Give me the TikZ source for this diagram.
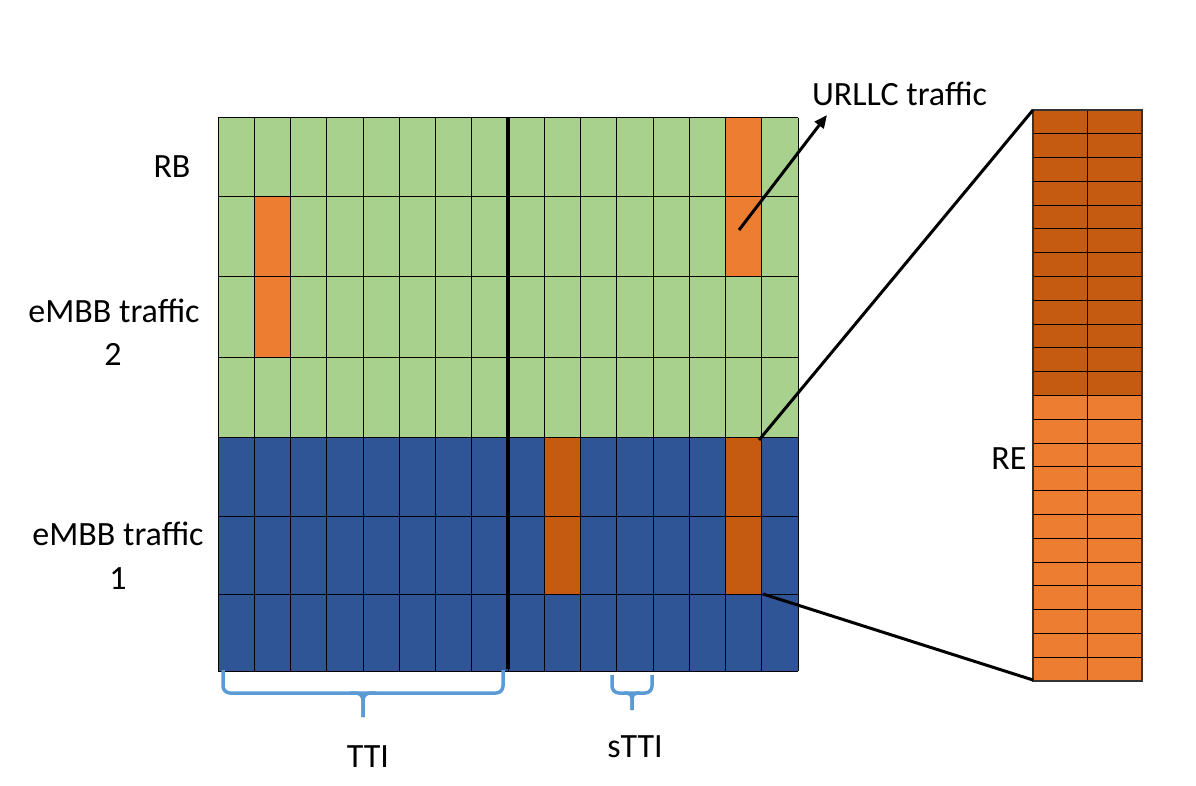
\documentclass[tikz,border=0pt]{standalone}
\usepackage{fontspec}
\setmainfont{Carlito}
\usetikzlibrary{arrows.meta}
\definecolor{cgreen}{HTML}{A9D18E}
\definecolor{cblue}{HTML}{2F5597}
\definecolor{corange}{HTML}{ED7D31}
\definecolor{cdark}{HTML}{C55A11}
\definecolor{cbrace}{HTML}{5B9BD5}
\tikzset{
  lbl/.style={anchor=base, inner sep=0pt, font=\fontsize{34}{40}\selectfont},
  gridline/.style={draw=black, line width=1pt},
  bigline/.style={draw=black, line width=3pt},
  bracestyle/.style={draw=cbrace, line width=3.5pt, rounded corners=7pt},
}
\begin{document}
\begin{tikzpicture}[x=1pt,y=-1pt]
\useasboundingbox (0,0) rectangle (1196,786);
% backgrounds
\fill[cgreen] (218,118) rectangle (798,437);
\fill[cblue] (218,437) rectangle (798,671);
% orange cells
\fill[corange] (254.25,197) rectangle (290.5,357);
\fill[corange] (725.5,118) rectangle (761.75,277);
\fill[cdark] (544.25,437) rectangle (580.5,594);
\fill[cdark] (725.5,437) rectangle (761.75,594);
% grid
\foreach \i in {0,...,16} \draw[gridline] ({218+36.25*\i},118) -- ({218+36.25*\i},671);
\foreach \y in {118,197,277,357,437,516,594,671} \draw[gridline] (218,\y) -- (798,\y);
\draw[line width=3.5pt] (508,118) -- (508,669);
% RE column
\fill[cdark] (1033,110) rectangle (1142,395.5);
\fill[corange] (1033,395.5) rectangle (1142,681);
\foreach \j in {0,...,24} \draw[gridline] (1033,{110+23.7917*\j}) -- (1142,{110+23.7917*\j});
\draw[gridline] (1087.5,110) -- (1087.5,681);
\draw[draw=black!80, line width=1.2pt] (1033,110) rectangle (1142,681);
% connectors
\coordinate (ul) at (759,440);
\coordinate (ll) at (763,594);
\coordinate (ret) at (1033,110);
\coordinate (reb) at (1033,680);
\draw[bigline] (ul) -- (ret);
\draw[bigline] (ll) -- (reb);
\coordinate (as) at (739,230);
\coordinate (ae) at (827,115);
\draw[bigline, -{Triangle[length=13pt,width=11pt]}] (as) -- (ae);
% braces
\draw[bracestyle] (223,670) -- (223,693) -- (363,693) -- (503,693) -- (503,670);
\draw[draw=cbrace, line width=3.5pt, rounded corners=7pt] (350,693) -- (363,693) -- (363,717);
\draw[draw=cbrace, line width=3.5pt, rounded corners=7pt] (376,693) -- (363,693) -- (363,717);
\draw[bracestyle] (612,675) -- (612,693) -- (652,693) -- (652,675);
\draw[draw=cbrace, line width=3.5pt, rounded corners=5pt] (624,693) -- (632,693) -- (632,710);
\draw[draw=cbrace, line width=3.5pt, rounded corners=5pt] (640,693) -- (632,693) -- (632,710);
% labels
\node[lbl] (urllc) at (899.5,106) {URLLC traffic};
\node[lbl] (rb) at (172,178) {RB};
\node[lbl] (e2) at (114,322) {eMBB traffic};
\node[lbl] (n2) at (113,365) {2};
\node[lbl] (e1) at (118,545) {eMBB traffic};
\node[lbl] (n1) at (118,589) {1};
\node[lbl] (re) at (1009,469) {RE};
\node[lbl] (tti) at (368,767) {TTI};
\node[lbl] (stti) at (635,757) {sTTI};
\end{tikzpicture}
\end{document}
